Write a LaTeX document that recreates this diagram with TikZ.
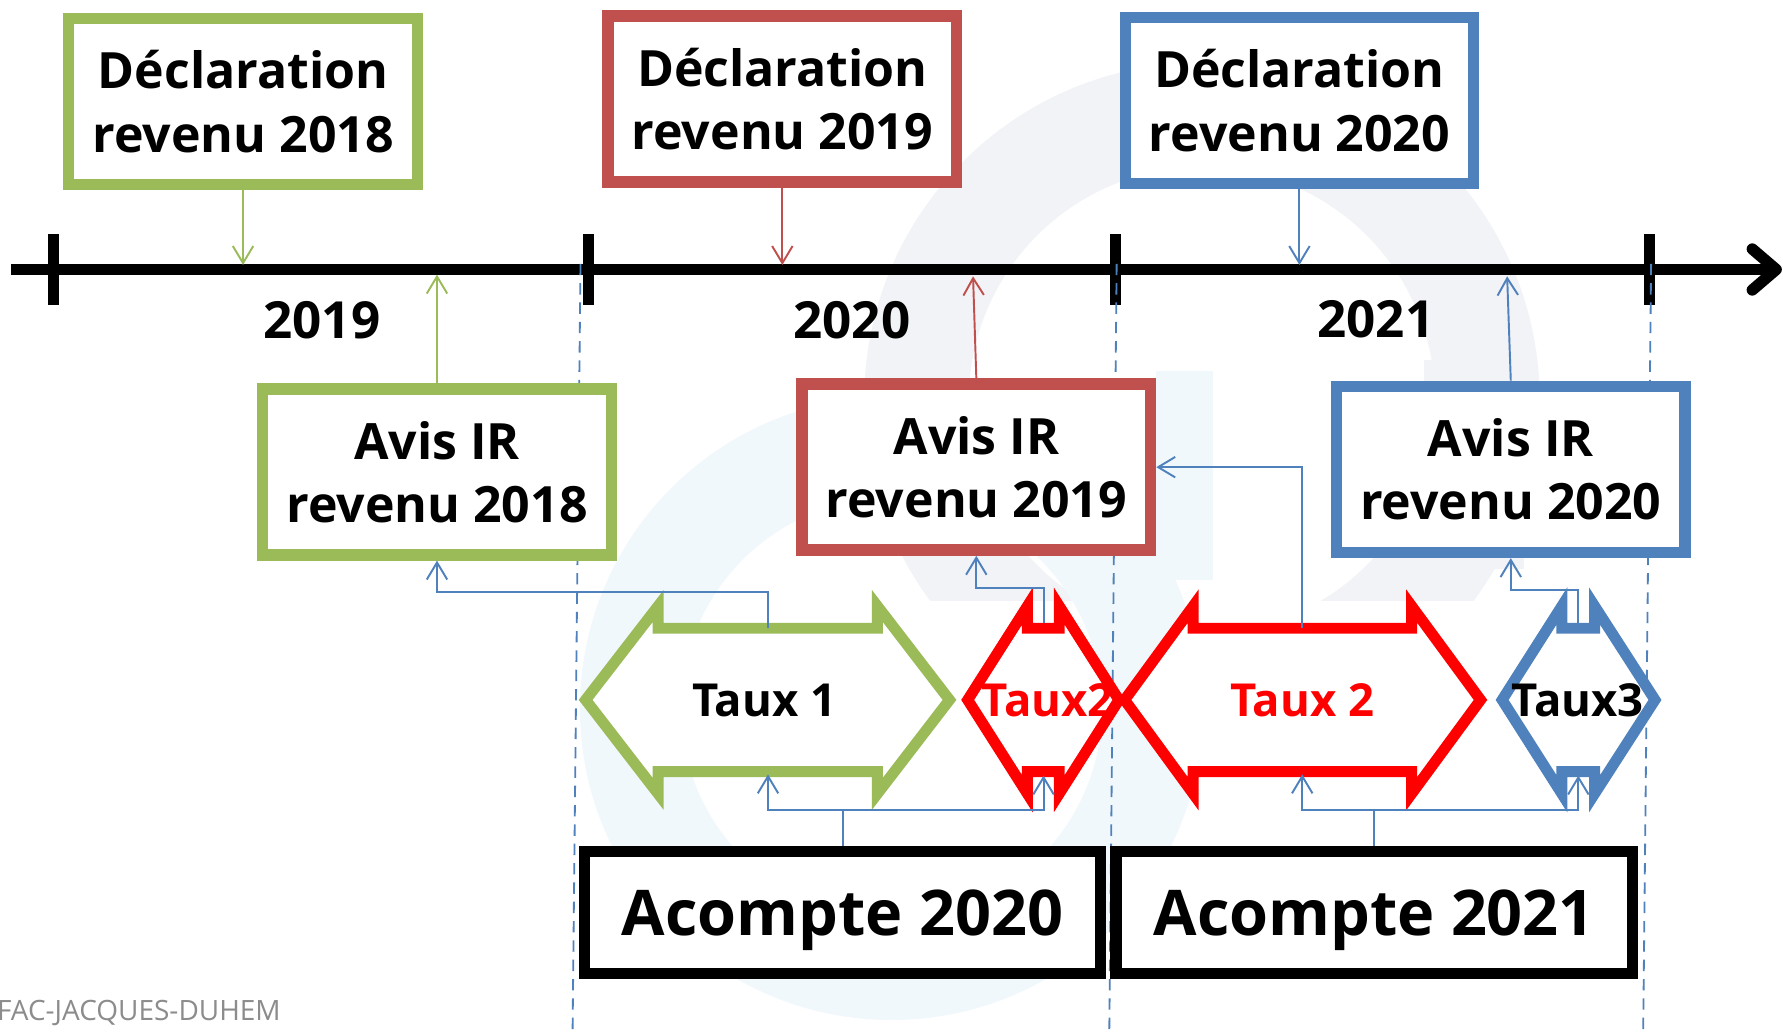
\documentclass[tikz,border=0pt]{standalone}
\usepackage{fontspec}
\setmainfont{Open Sans}
\usetikzlibrary{arrows.meta}
\definecolor{grn}{HTML}{9BBB59}
\definecolor{rbox}{HTML}{C0504D}
\definecolor{blu}{HTML}{4F81BD}
\definecolor{vred}{HTML}{FF0000}
\definecolor{wmgrey}{HTML}{F2F3F7}
\definecolor{wmblue}{HTML}{F1F8FC}
\definecolor{credit}{HTML}{8C8C8C}
\tikzset{
  infobox/.style={draw, line width=5pt, fill=white, minimum width=153.25pt, minimum height=73pt, inner sep=0pt, align=center, font=\fontsize{22}{27.85}\selectfont\bfseries},
  acbox/.style={draw=black, line width=5pt, fill=white, minimum width=227pt, minimum height=53.5pt, inner sep=0pt, text depth=0pt, font=\fontsize{27.7}{32}\selectfont\bfseries},
  thinarrow/.style={line width=0.85pt, -{Straight Barb[length=7.5pt,width=9pt]}},
  connector/.style={draw=blu, line width=0.85pt, -{Straight Barb[length=7.5pt,width=9pt]}},
  link/.style={draw=blu, line width=0.85pt},
  tauxline/.style={line width=4.8pt, fill=white, line join=miter, miter limit=25},
  dashv/.style={draw=blu, line width=0.8pt, dash pattern=on 5pt off 3.5pt},
  tick/.style={line width=5pt},
  yearlbl/.style={font=\fontsize{22.5}{27}\selectfont\bfseries, inner sep=0pt, anchor=base},
  tauxlbl/.style={font=\fontsize{20}{24}\selectfont\bfseries, inner sep=0pt, anchor=base}
}
\begin{document}
\begin{tikzpicture}[x=0.5pt,y=-0.5pt]
\useasboundingbox (0,0) rectangle (1568,910);
\fill[white] (0,0) rectangle (1568,910);

% faint watermark
\begin{scope}
\clip (0,0) rectangle (1568,528);
\fill[wmgrey, even odd rule] (1057,352) circle[radius=297] (1057,352) circle[radius=205];
\end{scope}
\fill[wmgrey] (1252,317) rectangle (1340,500);
\fill[wmblue, even odd rule] (784,623) circle[radius=274] (784,623) circle[radius=185];
\fill[wmblue] (1017,326) rectangle (1067,510);

% timeline
\coordinate (tlstart) at (10,237);
\coordinate (tlend) at (1560,237);
\draw[line width=5pt] (tlstart) -- (tlend);
\coordinate (chevA) at (1541,219);
\coordinate (chevT) at (1562,237);
\coordinate (chevB) at (1541,255);
\draw[line width=5pt, line cap=round, line join=round] (chevA) -- (chevT) -- (chevB);
\foreach \tx/\nm in {47/k0,517.5/k1,981/k2,1450.5/k3}{
  \coordinate (\nm a) at (\tx,206);
  \coordinate (\nm b) at (\tx,268);
  \draw[tick] (\nm a) -- (\nm b);
}

% dashed year limits
\coordinate (dA1) at (510.5,232); \coordinate (dA2) at (503.5,910);
\coordinate (dB1) at (982,232);   \coordinate (dB2) at (975.5,910);
\coordinate (dC1) at (1452,232);  \coordinate (dC2) at (1445,910);
\draw[dashv] (dA1) -- (dA2);
\draw[dashv] (dB1) -- (dB2);
\draw[dashv] (dC1) -- (dC2);

% year labels
\node[yearlbl] (y19) at (283,297.6) {2019};
\node[yearlbl] (y20) at (749.2,297.3) {2020};
\node[yearlbl] (y21) at (1210,296.5) {2021};

% double arrows (taux)
\draw[tauxline, draw=grn] (515,615.5) -- (578.7,533) -- (578.7,552.5) -- (771.6,552.5) -- (771.6,533) -- (835,615.5) -- (771.6,698) -- (771.6,678.5) -- (578.7,678.5) -- (578.7,698) -- cycle;
\draw[tauxline, draw=vred] (851,615.5) -- (903.5,533) -- (903.5,552.5) -- (931.5,552.5) -- (931.5,533) -- (984,615.5) -- (931.5,698) -- (931.5,678.5) -- (903.5,678.5) -- (903.5,698) -- cycle;
\draw[tauxline, draw=vred] (989,615.5) -- (1049.3,533) -- (1049.3,552.5) -- (1241.4,552.5) -- (1241.4,533) -- (1302,615.5) -- (1241.4,698) -- (1241.4,678.5) -- (1049.3,678.5) -- (1049.3,698) -- cycle;
\draw[tauxline, draw=blu] (1321,615.5) -- (1373.5,533) -- (1373.5,552.5) -- (1402.3,552.5) -- (1402.3,533) -- (1455.4,615.5) -- (1402.3,698) -- (1402.3,678.5) -- (1373.5,678.5) -- (1373.5,698) -- cycle;

\node[tauxlbl] (tx1) at (672,630.5) {Taux 1};
\node[tauxlbl, text=vred] (tx2s) at (921.3,630.5) {Taux2};
\node[tauxlbl, text=vred] (tx2) at (1145.3,630.5) {Taux 2};
\node[tauxlbl] (tx3) at (1387.5,630.5) {Taux3};

% boxes
\node[infobox, draw=grn] (d18) at (213.75,89.25) {Déclaration\\revenu 2018};
\node[infobox, draw=rbox] (d19) at (688,87) {Déclaration\\revenu 2019};
\node[infobox, draw=blu] (d20) at (1142.75,88.4) {Déclaration\\revenu 2020};
\node[infobox, draw=grn] (a18) at (384.3,415) {Avis IR\\revenu 2018};
\node[infobox, draw=rbox] (a19) at (858.6,410.8) {Avis IR\\revenu 2019};
\node[infobox, draw=blu] (a20) at (1328.6,412.8) {Avis IR\\revenu 2020};
\node[acbox] (ac20) at (741,802.5) {Acompte 2020};
\node[acbox] (ac21) at (1208.5,802.5) {Acompte 2021};

% arrows to the timeline
\coordinate (tltop) at (0,233);
\coordinate (tlbot) at (0,241.5);
\draw[thinarrow, grn] (d18.south) -- (d18.south |- tltop);
\draw[thinarrow, rbox] (d19.south) -- (d19.south |- tltop);
\draw[thinarrow, blu] (d20.south) -- (d20.south |- tltop);
\draw[thinarrow, grn] (a18.north) -- (a18.north |- tlbot);
\coordinate (r19tip) at (855.7,243);
\draw[thinarrow, rbox] (a19.north) -- (r19tip);
\coordinate (b20tip) at (1325.4,243);
\draw[thinarrow, blu] (a20.north) -- (b20tip);

% connectors
\coordinate (t1top) at (675.4,552.5);  \coordinate (t1bot) at (675.4,681);
\coordinate (t2stop) at (917.7,548);   \coordinate (t2sbot) at (917.7,682);
\coordinate (t2top) at (1145.2,552.5); \coordinate (t2bot) at (1145.2,681);
\coordinate (t3top) at (1388,548);     \coordinate (t3bot) at (1388,682);
\coordinate (up1) at (0,520.4);
\coordinate (up2) at (0,517.4);
\coordinate (up4) at (0,519);
\coordinate (low) at (0,712.7);

\draw[connector] (t1top) -- (t1top |- up1) -| (a18.south);
\draw[connector] (t2stop) -- (t2stop |- up2) -| (a19.south);
\draw[connector] (t2top) |- (a19.east);
\draw[connector] (t3top) -- (t3top |- up4) -| (a20.south);

\draw[link] (ac20.north) -- (ac20.north |- low);
\draw[connector] (ac20.north |- low) -| (t1bot);
\draw[connector] (ac20.north |- low) -| (t2sbot);
\draw[link] (ac21.north) -- (ac21.north |- low);
\draw[connector] (ac21.north |- low) -| (t2bot);
\draw[connector] (ac21.north |- low) -| (t3bot);

% credit
\node[anchor=base west, inner sep=0pt, text=credit, font=\fontsize{12.3}{14}\selectfont] (credit) at (-3,897) {FAC-JACQUES-DUHEM};
\end{tikzpicture}
\end{document}
